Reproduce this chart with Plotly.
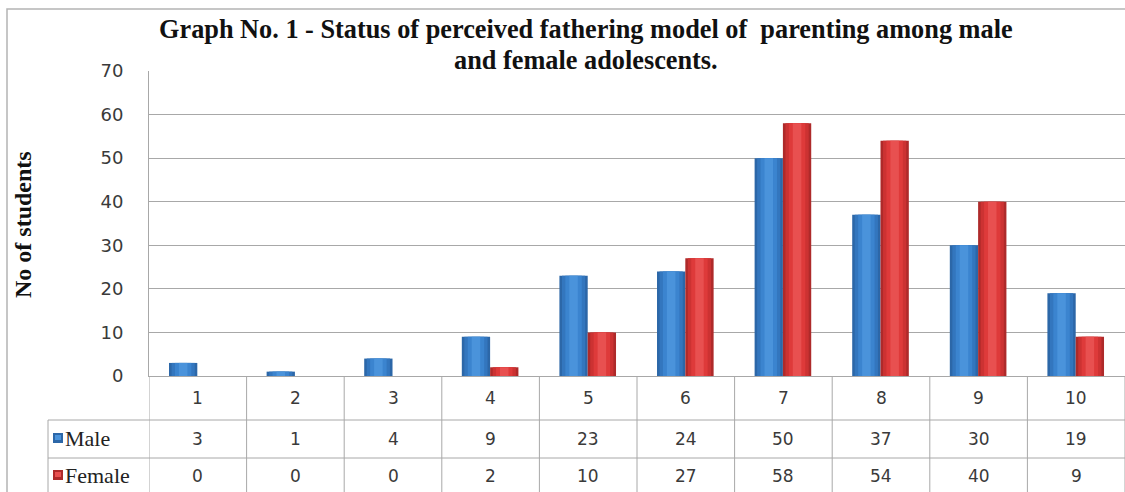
import plotly.graph_objects as go

# Score categories and number of students in each
categories = ["1", "2", "3", "4", "5", "6", "7", "8", "9", "10"]
male = [3, 1, 4, 9, 23, 24, 50, 37, 30, 19]
female = [0, 0, 0, 2, 10, 27, 58, 54, 40, 9]
series_names = ["Male", "Female"]

W, H = 1125, 492
L, R, T, B = 149, 0, 71, 116
PW, PH = W - L - R, H - T - B


def px(x):
    return (x - L) / PW


def py(y):
    return (H - B - y) / PH


fig = go.Figure()

# Shaded column look: each column is layered from dark edge to light core
BAR_W = 0.29
blue_shades = ["#2C67A8", "#3376BE", "#3B84CF", "#4A93DB"]
red_shades = ["#AE2A2A", "#CC3232", "#DE3A3A", "#E85050"]
layer_frac = [1.0, 0.82, 0.58, 0.3]
xs = list(range(len(categories)))

for vals, shades, center in ((male, blue_shades, -BAR_W / 2 - 0.005),
                             (female, red_shades, BAR_W / 2 - 0.005)):
    for frac, col in zip(layer_frac, shades):
        w = BAR_W * frac
        fig.add_trace(go.Bar(
            x=xs, y=vals, width=w, offset=center - w / 2,
            marker=dict(color=col, line=dict(width=0)),
            showlegend=False, hoverinfo="skip",
        ))

grid_col = "#A8A8A8"
fig.update_layout(
    width=W, height=H,
    margin=dict(l=L, r=R, t=T, b=B),
    barmode="overlay",
    plot_bgcolor="white", paper_bgcolor="white",
    showlegend=False,
    xaxis=dict(
        range=[-0.5, len(categories) - 0.5],
        showticklabels=False, ticks="", showgrid=False, zeroline=False,
        showline=True, linecolor=grid_col, linewidth=1,
    ),
    yaxis=dict(
        range=[0, 70], dtick=10, showgrid=True, gridcolor=grid_col, gridwidth=1,
        zeroline=False, showline=True, linecolor=grid_col, linewidth=1,
        ticks="", ticklabelstandoff=21,
        tickfont=dict(family="DejaVu Sans", size=18, color="#3a3a3a"),
    ),
)

shapes = []
line = dict(color=grid_col, width=1)
# Outer chart frame
shapes.append(dict(type="rect", xref="paper", yref="paper",
                   x0=px(7), x1=px(1130), y0=py(9), y1=py(500),
                   line=dict(color="#B4B4B4", width=1.5)))
# Data table grid
for i in range(len(categories) + 1):
    shapes.append(dict(type="line", xref="x", yref="paper",
                       x0=i - 0.5, x1=i - 0.5, y0=py(376), y1=py(500), line=line))
for yy in (420, 458):
    shapes.append(dict(type="line", xref="paper", yref="paper",
                       x0=px(48), x1=px(1130), y0=py(yy), y1=py(yy), line=line))
shapes.append(dict(type="line", xref="paper", yref="paper",
                   x0=px(48), x1=px(48), y0=py(420), y1=py(500), line=line))
# Legend keys inside the table
for (yc, c0, c1) in ((438, "#2C67A8", "#4A93DB"), (475, "#AE2A2A", "#E85050")):
    shapes.append(dict(type="rect", xref="paper", yref="paper",
                       x0=px(53), x1=px(63), y0=py(yc - 5), y1=py(yc + 5),
                       fillcolor=c0, line=dict(width=0)))
    shapes.append(dict(type="rect", xref="paper", yref="paper",
                       x0=px(55), x1=px(61), y0=py(yc - 3), y1=py(yc + 2),
                       fillcolor=c1, line=dict(width=0)))
fig.update_layout(shapes=shapes)

ann = []
num_font = dict(family="DejaVu Sans", size=17, color="#3a3a3a")
for i, cat in enumerate(categories):
    ann.append(dict(x=i, y=py(398), xref="x", yref="paper", text=cat,
                    xanchor="center", yanchor="middle",
                    showarrow=False, font=num_font))
for row_y, vals in ((439, male), (476, female)):
    for i, v in enumerate(vals):
        ann.append(dict(x=i, y=py(row_y), xref="x", yref="paper", text=str(v),
                        xanchor="center", yanchor="middle",
                        showarrow=False, font=num_font))
for row_y, name in ((438, series_names[0]), (475, series_names[1])):
    ann.append(dict(x=px(63), y=py(row_y), xref="paper", yref="paper", text=name,
                    showarrow=False, xanchor="left", yanchor="middle",
                    font=dict(family="Liberation Serif, Times New Roman, serif",
                              size=22, color="#222222")))

title_font = dict(family="Liberation Serif", size=26.3, color="#111111")
ann.append(dict(x=px(586), y=py(30), xref="paper", yref="paper",
                text="<b>Graph No. 1 - Status of perceived fathering model of  parenting among male</b>",
                xanchor="center", yanchor="middle",
                showarrow=False, font=title_font))
ann.append(dict(x=px(586), y=py(60), xref="paper", yref="paper",
                text="<b>and female adolescents.</b>",
                xanchor="center", yanchor="middle",
                showarrow=False, font=title_font))
ann.append(dict(x=px(23), y=py(225), xref="paper", yref="paper",
                text="<b>No of students</b>", textangle=-90, showarrow=False,
                xanchor="center", yanchor="middle",
                font=dict(family="Liberation Serif", size=24, color="#111111")))
fig.update_layout(annotations=ann)

fig.write_html("out.html")
